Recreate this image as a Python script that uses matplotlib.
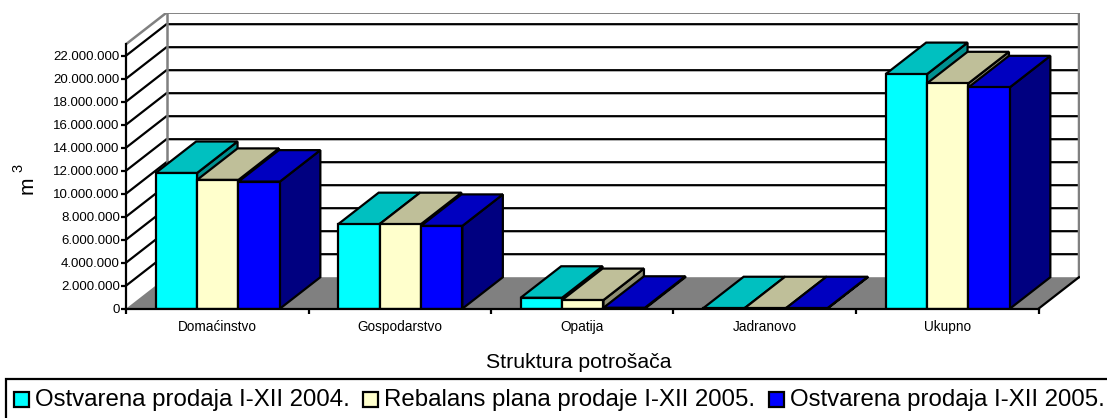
import matplotlib
matplotlib.use("Agg")
import matplotlib.pyplot as plt
from matplotlib.patches import Polygon, Rectangle

categories = ["Domaćinstvo", "Gospodarstvo", "Opatija", "Jadranovo", "Ukupno"]
sales_2004 = [11.8e6, 7.35e6, 0.95e6, 0.04e6, 20.4e6]
plan_2005 = [11.2e6, 7.35e6, 0.75e6, 0.04e6, 19.6e6]
sales_2005 = [11.05e6, 7.2e6, 0.08e6, 0.04e6, 19.25e6]
series_names = ["Ostvarena prodaja I-XII 2004.", "Rebalans plana prodaje I-XII 2005.", "Ostvarena prodaja I-XII 2005."]
yticks = list(range(0, 22000001, 2000000))
ytick_labels = [f"{v:,}".replace(",", ".") for v in yticks]

front = ["#00FFFF", "#FFFFCC", "#0000FF"]
top = ["#00C0C0", "#BFBF99", "#0000C0"]
side = ["#009090", "#8F8F73", "#000080"]

W, H = 1107, 418
plt.rcParams["font.family"] = ["Liberation Sans", "DejaVu Sans"]
fig = plt.figure(figsize=(W / 100, H / 100), dpi=100)
px_x0, px_x1, px_y0, px_y1 = 126, 1080, 308.7, 13
ax = fig.add_axes([px_x0 / W, 1 - px_y0 / H, (px_x1 - px_x0) / W, (px_y0 - px_y1) / H])
cat_px = 182.5
val_px = 11.5 / 1e6
ax.set_xlim(0, (px_x1 - px_x0) / cat_px)
ax.set_ylim(0, (px_y0 - px_y1) / val_px)
ax.patch.set_alpha(0)
for s in ("top", "right"):
    ax.spines[s].set_visible(False)

dx, dy = 40.5 / cat_px, 31.5 / val_px
ymax = 23e6
lw = 1.6
grey = "#808080"

# walls and floor
ax.add_patch(Polygon([(0, 0), (dx, dy), (5 + dx, dy), (5, 0)], fc=grey, ec="none", zorder=1))
for v in yticks[1:]:
    ax.plot([0, dx, 5 + dx], [v, v + dy, v + dy], color="k", lw=lw, zorder=1.5, solid_joinstyle="miter")
ax.plot([0, dx, 5 + dx, 5 + dx], [ymax, ymax + dy, ymax + dy, dy], color=grey, lw=lw + 0.2, zorder=1.6, solid_joinstyle="miter")
ax.plot([dx, dx], [dy, ymax + dy], color=grey, lw=lw + 0.2, zorder=1.6)
ax.plot([5, 5 + dx], [0, dy], color="k", lw=lw, zorder=1.6)

# bars
bar_w = 41.4 / cat_px
gap = (1 - 3 * bar_w) / 2 + 0.5 / cat_px
series = [sales_2004, plan_2005, sales_2005]
z = 2
for i in range(len(categories)):
    for j, vals in enumerate(series):
        v = vals[i]
        x0 = i + gap + j * bar_w
        x1 = x0 + bar_w
        kw = dict(ec="k", lw=lw, joinstyle="miter")
        ax.add_patch(Polygon([(x1, 0), (x1 + dx, dy), (x1 + dx, v + dy), (x1, v)], fc=side[j], zorder=z, **kw))
        ax.add_patch(Polygon([(x0, v), (x0 + dx, v + dy), (x1 + dx, v + dy), (x1, v)], fc=top[j], zorder=z, **kw))
        ax.bar(x0, v, width=bar_w, align="edge", color=front[j], edgecolor="k", linewidth=lw, zorder=z)
        z += 0.01

ax.spines["left"].set_bounds(0, ymax)
ax.spines["bottom"].set_bounds(0, 5)
ax.spines["left"].set_linewidth(lw)
ax.spines["bottom"].set_linewidth(lw)
ax.spines["left"].set_zorder(5)
ax.spines["bottom"].set_zorder(5)
ax.set_yticks(yticks)
ax.set_yticklabels(ytick_labels, fontsize=9.5, color="k")
ax.set_xticks(range(6))
ax.set_xticklabels([])
ax.tick_params(axis="both", length=3.5, width=lw, pad=1.0)
for i, c in enumerate(categories):
    ax.text(i + 0.5, -1.55e6, c, ha="center", va="center", fontsize=9.8)

fig.text(578.5 / W, 1 - 362 / H, "Struktura potrošača", ha="center", va="center", fontsize=15.3)
fig.text(27 / W, 1 - 185 / H, "m", ha="center", va="center", rotation=90, fontsize=15)
fig.text(18.5 / W, 1 - 168 / H, "3", ha="center", va="center", rotation=90, fontsize=10.5)

# legend
fig.add_artist(Rectangle((6 / W, -5 / H), (W + 5) / W, 44.5 / H, transform=fig.transFigure, fc="white", ec="k", lw=lw))
for name, col, mx, tx in zip(series_names, front, [21.5, 370.5, 776], [35, 384, 790]):
    fig.add_artist(Rectangle(((mx - 7.5) / W, 1 - 406.5 / H), 15 / W, 15 / H, transform=fig.transFigure, fc=col, ec="k", lw=lw))
    fig.text(tx / W, 1 - 400 / H, name, ha="left", va="center", fontsize=17.3)

fig.savefig("out.png", dpi=100)
